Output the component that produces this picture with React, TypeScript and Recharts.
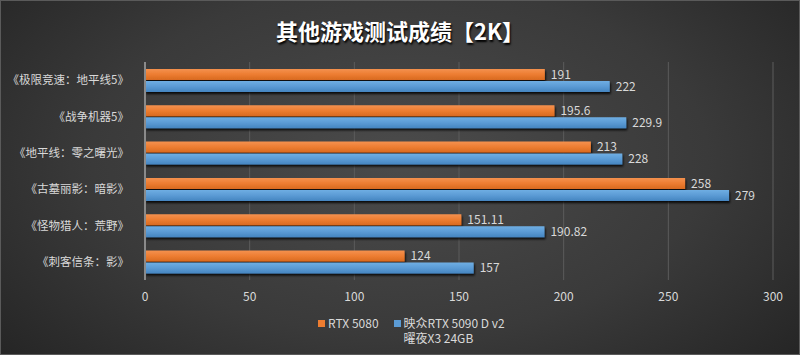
import React from 'react'
import { BarChart, Bar, XAxis, YAxis, CartesianGrid, LabelList, Legend } from 'recharts'

const games = [
  '《极限竞速：地平线5》',
  '《战争机器5》',
  '《地平线：零之曙光》',
  '《古墓丽影：暗影》',
  '《怪物猎人：荒野》',
  '《刺客信条：影》',
]
const rtx5080 = [191, 195.6, 213, 258, 151.11, 124]
const rtx5090d = [222, 229.9, 228, 279, 190.82, 157]
const xTicks = [0, 50, 100, 150, 200, 250, 300]

const seriesNames = ['RTX 5080', '映众RTX 5090 D v2 曜夜X3 24GB']

const data = games.map((name, i) => ({ name, a: rtx5080[i], b: rtx5090d[i] }))

const font = '"Noto Sans CJK SC", "Noto Sans", sans-serif'
const textColor = '#d9d9d9'

function LegendBox() {
  const item = (color: string, label: string, width?: number) => (
    <div style={{ display: 'flex', alignItems: 'flex-start', marginRight: 15 }}>
      <span style={{ width: 7, height: 7, background: color, marginTop: 5, marginRight: 3, flexShrink: 0 }} />
      <span style={{ width }}>{label}</span>
    </div>
  )
  return (
    <div style={{ height: 40, paddingTop: 5, paddingLeft: 318, boxSizing: 'border-box', display: 'flex', fontFamily: font, fontSize: 12, lineHeight: '15px', color: textColor }}>
      {item('#ED7D31', seriesNames[0])}
      {item('#5B9BD5', seriesNames[1], 104)}
    </div>
  )
}

export default function App() {
  return (
    <div style={{ position: 'absolute', left: 0, top: 0, width: 800, height: 355, overflow: 'hidden',
      background: 'radial-gradient(ellipse 70% 90% at 50% 45%, #4b4b4b 0%, #3a3a3a 55%, #222 100%)',
      boxShadow: 'inset 0 0 0 1px #5a5a5a' }}>
      <div style={{ position: 'absolute', top: 14, width: 800, textAlign: 'center', fontFamily: font, fontWeight: 700,
        fontSize: 22, color: '#fff', textShadow: '1px 2px 2px #000' }}>
        其他游戏测试成绩【2K】
      </div>
      <BarChart width={800} height={355} data={data} layout="vertical"
        margin={{ top: 62, right: 27, left: 0, bottom: 5 }} barCategoryGap="19%" barGap={1}>
        <defs>
          <linearGradient id="gOrange" x1="0" y1="0" x2="0" y2="1">
            <stop offset="0" stopColor="#F4914F" />
            <stop offset="0.5" stopColor="#ED7D31" />
            <stop offset="1" stopColor="#D86A20" />
          </linearGradient>
          <linearGradient id="gBlue" x1="0" y1="0" x2="0" y2="1">
            <stop offset="0" stopColor="#6FAEE3" />
            <stop offset="0.5" stopColor="#5B9BD5" />
            <stop offset="1" stopColor="#4585C0" />
          </linearGradient>
          <filter id="shadow" x="-5%" y="-30%" width="110%" height="180%">
            <feDropShadow dx="1" dy="2" stdDeviation="0.8" floodColor="#000" floodOpacity="0.85" />
          </filter>
        </defs>
        <CartesianGrid horizontal={false} stroke="#5c5c5c" strokeWidth={1} />
        <XAxis type="number" domain={[0, 300]} ticks={xTicks} axisLine={false} tickLine={false}
          tickSize={0} tickMargin={12} height={30}
          tick={{ fill: textColor, fontSize: 12, fontFamily: font }} />
        <YAxis type="category" dataKey="name" width={145} tickLine={false} tickSize={0} tickMargin={16}
          axisLine={{ stroke: '#8a8a8a', strokeWidth: 2 }} interval={0}
          tick={{ fill: textColor, fontSize: 11.5, fontFamily: font }} />
        <Legend verticalAlign="bottom" content={() => <LegendBox />} />
        <Bar dataKey="a" name={seriesNames[0]} fill="url(#gOrange)" filter="url(#shadow)" isAnimationActive={false}>
          <LabelList dataKey="a" position="right" offset={6} fill={textColor} fontSize={12} fontFamily={font} />
        </Bar>
        <Bar dataKey="b" name={seriesNames[1]} fill="url(#gBlue)" filter="url(#shadow)" isAnimationActive={false}>
          <LabelList dataKey="b" position="right" offset={6} fill={textColor} fontSize={12} fontFamily={font} />
        </Bar>
      </BarChart>
    </div>
  )
}
